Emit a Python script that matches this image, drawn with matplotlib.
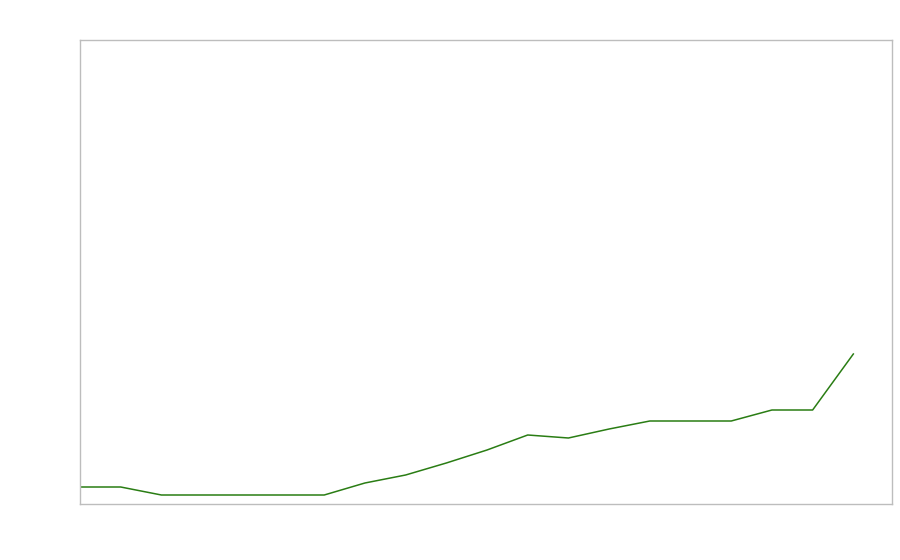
import matplotlib
matplotlib.use("Agg")
import matplotlib.pyplot as plt

# valeurs (échelle arbitraire)
x = list(range(20))
y = [17, 17, 9, 9, 9, 9, 9, 21, 29, 41, 54, 69, 66, 75, 83, 83, 83, 94, 94, 150]

fig = plt.figure(figsize=(9, 5.6), dpi=100)
ax = fig.add_axes([80/900, 56/560, 812/900, 464/560])
ax.plot(x, y, color='#2a7d14', linewidth=1.1)
ax.set_xlim(0, 19.95)
ax.set_ylim(0, 464)
ax.set_xticks([])
ax.set_yticks([])
for s in ax.spines.values():
    s.set_color('#bdbdbd')
    s.set_linewidth(1)

fig.savefig("out.png", dpi=100)
